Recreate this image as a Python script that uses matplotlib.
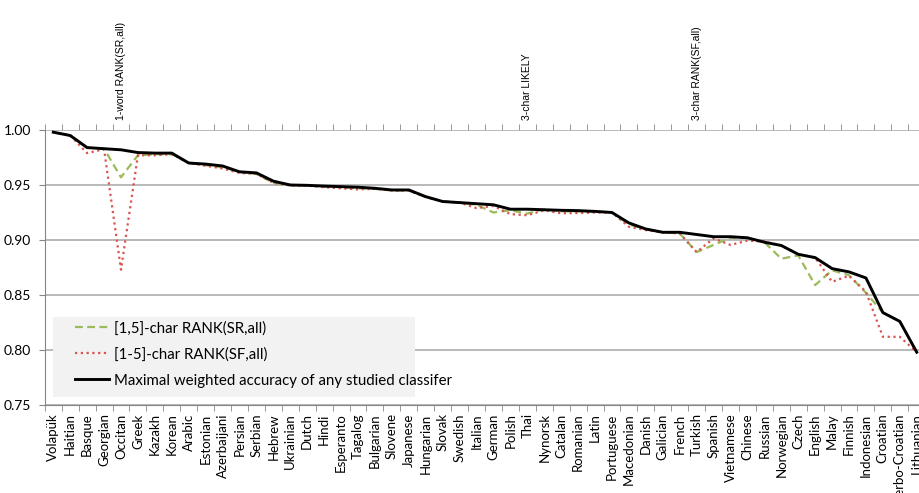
import numpy as np
import matplotlib.pyplot as plt
from matplotlib.patches import Rectangle
from matplotlib.ticker import FixedLocator

plt.rcParams['font.family'] = ['Lato', 'DejaVu Sans']

# languages, sorted by best accuracy
langs = ['Volapük', 'Haitian', 'Basque', 'Georgian', 'Occitan', 'Greek', 'Kazakh',
         'Korean', 'Arabic', 'Estonian', 'Azerbaijani', 'Persian', 'Serbian', 'Hebrew',
         'Ukrainian', 'Dutch', 'Hindi', 'Esperanto', 'Tagalog', 'Bulgarian', 'Slovene',
         'Japanese', 'Hungarian', 'Slovak', 'Swedish', 'Italian', 'German', 'Polish',
         'Thai', 'Nynorsk', 'Catalan', 'Romanian', 'Latin', 'Portuguese', 'Macedonian',
         'Danish', 'Galician', 'French', 'Turkish', 'Spanish', 'Vietnamese', 'Chinese',
         'Russian', 'Norwegian', 'Czech', 'English', 'Malay', 'Finnish', 'Indonesian',
         'Croatian', 'Serbo-Croatian', 'Lithuanian']

# [1,5]-char RANK(SR,all)
acc_sr = [0.998, 0.995, 0.984, 0.983, 0.957, 0.977, 0.978, 0.978, 0.970, 0.968,
          0.966, 0.962, 0.960, 0.952, 0.950, 0.9495, 0.9485, 0.948, 0.947, 0.9465,
          0.945, 0.945, 0.939, 0.935, 0.934, 0.932, 0.925, 0.927, 0.924, 0.928,
          0.926, 0.926, 0.926, 0.925, 0.914, 0.910, 0.907, 0.906, 0.889, 0.8955,
          0.902, 0.902, 0.898, 0.883, 0.886, 0.859, 0.8725, 0.868, 0.852, 0.834,
          0.826, 0.798]

# [1-5]-char RANK(SF,all)
acc_sf = [0.998, 0.995, 0.979, 0.9825, 0.873, 0.977, 0.977, 0.978, 0.970, 0.9675,
          0.965, 0.961, 0.960, 0.952, 0.9495, 0.9495, 0.948, 0.947, 0.946, 0.9465,
          0.945, 0.945, 0.939, 0.935, 0.934, 0.929, 0.931, 0.9235, 0.9225, 0.927,
          0.9243, 0.9245, 0.925, 0.925, 0.912, 0.909, 0.907, 0.906, 0.889, 0.9015,
          0.8955, 0.8994, 0.8985, 0.895, 0.887, 0.884, 0.862, 0.8675, 0.853, 0.812,
          0.812, 0.798]

# best classifier per language
acc_max = [0.998, 0.995, 0.984, 0.983, 0.982, 0.9795, 0.979, 0.979, 0.970, 0.969,
           0.9673, 0.962, 0.961, 0.9535, 0.950, 0.9497, 0.949, 0.9485, 0.948, 0.947,
           0.9455, 0.9455, 0.9394, 0.935, 0.934, 0.933, 0.932, 0.928, 0.928, 0.9275,
           0.927, 0.9267, 0.926, 0.925, 0.9155, 0.910, 0.907, 0.907, 0.905, 0.903,
           0.903, 0.902, 0.898, 0.895, 0.887, 0.884, 0.874, 0.871, 0.8655, 0.834,
           0.826, 0.798]

# methods named above the chart and the language they sit on
top_labels = ['1-word RANK(SR,all)', '3-char LIKELY', '3-char RANK(SF,all)']
top_langs = ['Occitan', 'Thai', 'Turkish']

x = np.arange(len(langs))
axis_grey = '#868686'

fig = plt.figure(figsize=(9.2, 4.93), dpi=100)
ax = fig.add_axes([44.8 / 920, 88 / 493, 880.4 / 920, 275 / 493])

ax.plot(x, acc_sr, color='#9bbb59', lw=1.6, ls=(0, (3.5, 2)), label='[1,5]-char RANK(SR,all)', zorder=3)
ax.plot(x, acc_sf, color='#d9534f', lw=1.6, ls=(0, (1, 1.6)), label='[1-5]-char RANK(SF,all)', zorder=3)
ax.plot(x, acc_max, color='black', lw=2.1, label='Maximal weighted accuracy of any studied classifer', zorder=4)

ax.set_xlim(-0.5, len(langs) - 0.5)
ax.set_ylim(0.75, 1.0)
ax.set_yticks([0.75, 0.80, 0.85, 0.90, 0.95, 1.00])
ax.set_yticklabels(['%.2f' % v for v in [0.75, 0.80, 0.85, 0.90, 0.95, 1.00]], fontsize=10)
ax.grid(axis='y', color='#a6a6a6', lw=1.1, zorder=0)
ax.set_axisbelow(True)

ax.set_xticks(x)
ax.set_xticklabels(langs, rotation=90, fontsize=9.5)
ax.xaxis.set_minor_locator(FixedLocator(np.arange(-0.5, len(langs), 1.0)))
ax.tick_params(axis='x', which='major', length=0, pad=6)
ax.tick_params(axis='x', which='minor', length=4, color=axis_grey, top=True, bottom=True, direction='out')
ax.tick_params(axis='y', length=4, color=axis_grey, direction='out', pad=6)

for side in ['right', 'top']:
    ax.spines[side].set_visible(False)
for side in ['left', 'bottom']:
    ax.spines[side].set_color(axis_grey)

# method names on top
for lab, lang in zip(top_labels, top_langs):
    ax.text(langs.index(lang), 1.0 + 10 / 275, lab, transform=ax.get_xaxis_transform(),
            rotation=90, ha='center', va='bottom', fontsize=7.5,
            family='Liberation Sans')

# legend box
ax.add_patch(Rectangle((8.2 / 880.4, 8 / 275), 362 / 880.4, 80 / 275,
                       transform=ax.transAxes, facecolor='#f2f2f2', edgecolor='none', zorder=2))
ax.legend(loc='upper left', bbox_to_anchor=(30 / 880.4, 84 / 275), frameon=False,
          fontsize=10.8, borderpad=0, handlelength=2.3, handletextpad=0.3,
          labelspacing=0.8, borderaxespad=0)

fig.savefig('out.png', dpi=100)
